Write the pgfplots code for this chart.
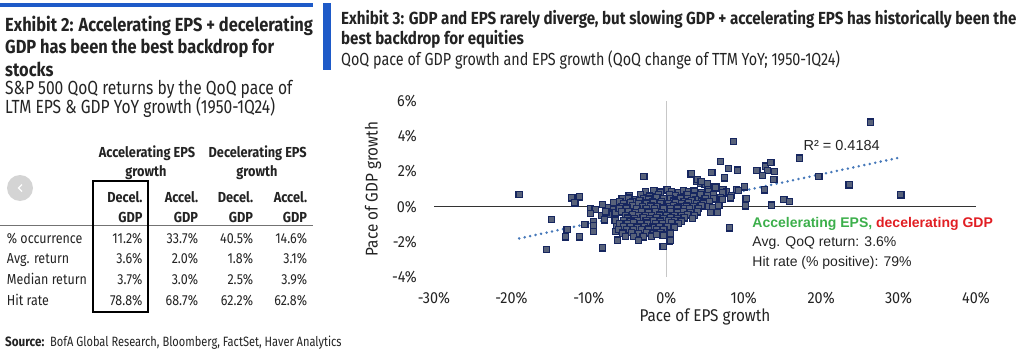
\documentclass[border=0pt]{standalone}
\usepackage{pgfplots}
\pgfplotsset{compat=1.18}
\usepackage{fontspec}
\setmainfont{Fira Sans}[UprightFeatures={FakeStretch=0.82}, BoldFeatures={FakeStretch=0.865}]
\newfontfamily\tabfont{Fira Sans}[UprightFeatures={FakeStretch=0.86}, BoldFeatures={FakeStretch=0.88}]
\newfontfamily\plain{Fira Sans}[FakeStretch=0.9]
\newfontfamily\arial{Liberation Sans}
\definecolor{bofablue}{RGB}{30,90,200}
\definecolor{mkfill}{RGB}{88,98,122}
\definecolor{mkdraw}{RGB}{22,38,95}
\definecolor{trend}{RGB}{70,120,185}
\definecolor{accgreen}{RGB}{60,175,75}
\definecolor{decred}{RGB}{225,30,35}
\definecolor{txt}{RGB}{35,35,35}
\newcommand{\fs}[2]{\fontsize{#1bp}{#2bp}\selectfont}

\begin{document}
\begin{tikzpicture}
\path[use as bounding box] (0,0) rectangle (1024bp,-353bp);
\begin{scope}[x=1bp,y=-1bp, every node/.style={inner sep=0pt, text=txt}]
 % blue bars
 \fill[bofablue] (0,3) rectangle (313,7);
 \fill[bofablue] (323,3) rectangle (331,70);
 % Exhibit 2 title
 \node[anchor=base west] at (5,31.7) {\fs{19}{22}\bfseries Exhibit 2: Accelerating EPS + decelerating};
 \node[anchor=base west] at (5,53.5) {\fs{19}{22}\bfseries GDP has been the best backdrop for};
 \node[anchor=base west] at (5,76) {\fs{19}{22}\bfseries stocks};
 \node[anchor=base west] at (5,94.3) {\fs{19}{22}S\&P 500 QoQ returns by the QoQ pace of};
 \node[anchor=base west] at (5,113.3) {\fs{19}{22}LTM EPS \& GDP YoY growth (1950-1Q24)};
 % carousel button
 \fill[black!17] (20,188) circle (13);
 \draw[white, line width=1.2bp] (22,184.5) -- (18.5,188) -- (22,191.5);
 % table header
 \node[anchor=base] at (147,157) {\tabfont\fs{14.5}{17}\bfseries Accelerating EPS};
 \node[anchor=base] at (146,176) {\tabfont\fs{14.5}{17}\bfseries growth};
 \node[anchor=base] at (257.7,157) {\tabfont\fs{14.5}{17}\bfseries Decelerating EPS};
 \node[anchor=base] at (257,176) {\tabfont\fs{14.5}{17}\bfseries growth};
 \foreach \xx/\lab in {142.7/Decel., 198.3/Accel., 253.3/Decel., 307.3/Accel.}{
   \node[anchor=base east] at (\xx,202) {\tabfont\fs{14.5}{17}\bfseries \lab};
   \node[anchor=base east] at (\xx,222.7) {\tabfont\fs{14.5}{17}\bfseries GDP};
 }
 \draw[black!55, line width=1.5bp] (0,225.7) -- (313,225.7);
 % table rows
 \node[anchor=base west] at (6.7,243) {\tabfont\fs{14.5}{17}\% occurrence};
 \node[anchor=base west] at (6.7,263.3) {\tabfont\fs{14.5}{17}Avg. return};
 \node[anchor=base west] at (6.7,284) {\tabfont\fs{14.5}{17}Median return};
 \node[anchor=base west] at (6.7,305.7) {\tabfont\fs{14.5}{17}Hit rate};
 \foreach \yy/\a/\b/\c/\d in {243/11.2/33.7/40.5/14.6, 263.3/3.6/2.0/1.8/3.1, 284/3.7/3.0/2.5/3.9, 305.7/78.8/68.7/62.2/62.8}{
   \node[anchor=base east] at (142.7,\yy) {\tabfont\fs{14.5}{17}\a\%};
   \node[anchor=base east] at (198.3,\yy) {\tabfont\fs{14.5}{17}\b\%};
   \node[anchor=base east] at (253.3,\yy) {\tabfont\fs{14.5}{17}\c\%};
   \node[anchor=base east] at (307.3,\yy) {\tabfont\fs{14.5}{17}\d\%};
 }
 \draw[black, line width=2bp] (92.7,180.7) rectangle (148.3,311.7);
 % source
 \node[anchor=base west] at (5,346) {\fs{13.5}{16}\textbf{Source:}\ \ BofA Global Research, Bloomberg, FactSet, Haver Analytics};
 % Exhibit 3 title
 \node[anchor=base west] at (341,24) {\fs{17.5}{20}\bfseries Exhibit 3: GDP and EPS rarely diverge, but slowing GDP + accelerating EPS has historically been the};
 \node[anchor=base west] at (341,44) {\fs{17.5}{20}\bfseries best backdrop for equities};
 \node[anchor=base west] at (341,65) {\fs{17.5}{20}QoQ pace of GDP growth and EPS growth (QoQ change of TTM YoY; 1950-1Q24)};
\end{scope}

\begin{axis}[
 at={(434bp,-277bp)}, anchor=south west,
 width=542bp, height=176bp, scale only axis,
 xmin=-30, xmax=40, ymin=-4, ymax=6,
 axis line style={draw=none},
 major tick length=0pt,
 xtick={-30,-20,-10,0,10,20,30,40},
 xticklabels={-30\%,-20\%,-10\%,0\%,10\%,20\%,30\%,40\%},
 ytick={-4,-2,0,2,4,6},
 yticklabels={-4\%,-2\%,0\%,2\%,4\%,6\%},
 tick label style={font=\plain\fs{16}{18}, text=txt},
 xticklabel style={anchor=center, yshift=-21bp},
 yticklabel style={anchor=east, inner sep=0pt, xshift=-17bp},
 xlabel={Pace of EPS growth}, ylabel={Pace of GDP growth},
 label style={font=\plain\fs{17}{19}, text=txt},
 xlabel style={at={(axis description cs:0.5,-0.227)}, anchor=center},
 ylabel style={at={(axis description cs:-0.1125,0.5)}, anchor=center},
 clip=false,
]
\addplot[draw=black!22, line width=1.5bp, mark=none] coordinates {(0,-4) (0,6)};
\addplot[draw=black!80, line width=1.6bp, mark=none] coordinates {(-30,0) (40,0)};
\addplot[only marks, mark=square*, mark size=3.1bp, mark options={fill=mkfill, draw=mkdraw, line width=1.2bp}] table {
x y
-19.0 0.68
-15.5 -2.45
-14.8 -0.74
-12.2 0.49
-11.2 0.55
-11.8 0.21
-12.8 -1.30
-13.0 -1.72
-11.2 -1.72
-10.5 -1.02
-9.8 -0.13
-9.2 -0.17
-9.8 -0.40
-9.4 -0.83
-9.4 -1.10
-9.4 -1.40
-8.2 0.11
-8.2 -2.35
-8.4 -0.50
-8.0 -0.75
-7.5 -0.07
-6.8 -0.17
-7.2 -0.45
-6.6 -0.36
-6.6 -0.80
-6.4 -1.15
-6.5 -1.40
-6.3 -1.90
-6.8 0.25
-7.8 -0.30
-2.9 1.70
3.2 1.86
8.7 3.70
26.4 4.80
17.2 2.75
19.7 1.70
23.6 1.23
30.3 0.66
7.0 2.55
8.05 2.15
9.2 2.07
7.5 1.63
5.9 1.95
11.7 2.06
12.8 2.30
13.5 2.50
13.1 2.05
14.0 1.98
12.4 1.76
13.9 1.55
12.7 0.95
10.1 1.12
9.1 0.97
10.3 0.47
10.2 0.04
13.6 0.08
15.2 0.40
15.9 0.30
8.2 -1.21
-0.4 -2.25
0.4 -1.97
3.9 1.44
4.4 1.34
5.0 1.25
5.5 1.15
6.1 1.06
6.5 1.15
7.3 0.97
7.8 0.87
8.4 0.62
9.3 0.90
4.0 1.53
4.5 1.44
5.3 1.30
6.3 1.06
7.3 0.78
7.0 0.49
-2.7 0.85
-1.6 0.90
-0.8 0.82
0.1 0.95
0.7 0.86
1.6 0.80
2.2 0.90
2.9 0.84
3.6 0.88
4.5 0.80
5.4 0.86
-4.8 0.62
-3.3 0.68
-2.2 0.60
-1.0 0.66
0.4 0.70
1.2 0.62
2.7 0.66
3.5 0.60
4.4 0.68
5.3 0.62
6.1 0.66
-5.7 0.45
-4.9 0.48
-4.0 0.42
-2.9 0.47
-2.3 0.43
-1.2 0.49
-0.3 0.44
0.5 0.47
1.2 0.42
1.8 0.48
2.7 0.45
3.8 0.42
5.0 0.47
6.1 0.44
7.2 0.40
8.3 0.49
-6.0 0.30
-4.4 0.28
-3.4 0.32
-1.8 0.30
-0.6 0.27
0.9 0.31
2.3 0.29
3.3 0.33
4.6 0.28
5.6 0.30
-5.5 0.18
-4.6 0.21
-3.6 0.16
-2.5 0.20
-1.6 0.22
-0.8 0.15
0.3 0.19
1.2 0.22
2.0 0.16
2.9 0.21
3.9 0.18
4.8 0.20
6.8 0.06
-5.7 0.02
-4.4 0.04
-3.1 -0.01
-2.0 0.03
-1.1 0.00
0.2 0.02
0.9 0.05
1.8 -0.02
2.6 0.03
3.5 0.01
4.5 0.04
5.5 0.00
6.0 -0.05
-6.1 -0.12
-5.1 -0.09
-3.8 -0.13
-2.6 -0.10
-1.5 -0.12
-0.4 -0.08
0.6 -0.12
1.5 -0.09
2.3 -0.13
3.0 -0.10
4.1 -0.11
-5.8 -0.30
-4.9 -0.28
-4.0 -0.33
-3.2 -0.27
-2.3 -0.31
-1.4 -0.29
-0.6 -0.32
0.5 -0.28
1.4 -0.31
2.2 -0.27
3.1 -0.32
4.0 -0.30
5.7 -0.32
6.6 -0.32
-5.3 -0.50
-4.4 -0.47
-3.6 -0.52
-2.7 -0.49
-1.9 -0.51
-0.9 -0.48
0.0 -0.52
1.0 -0.49
1.9 -0.50
2.8 -0.47
3.6 -0.51
-5.0 -0.65
-4.1 -0.67
-3.0 -0.63
-2.2 -0.66
-1.2 -0.64
-0.3 -0.67
0.6 -0.63
1.5 -0.66
2.3 -0.64
3.4 -0.66
-5.5 -0.80
-4.6 -0.82
-3.7 -0.79
-2.6 -0.81
-1.7 -0.78
-0.8 -0.82
0.3 -0.80
1.1 -0.79
2.0 -0.82
-6.0 -0.95
-5.0 -0.97
-4.2 -0.93
-3.3 -0.96
-2.4 -0.94
-1.4 -0.97
-0.5 -0.95
0.7 -0.93
1.6 -0.96
-5.5 -1.15
-4.6 -1.13
-3.7 -1.17
-2.8 -1.14
-1.8 -1.16
-0.9 -1.13
0.1 -1.15
1.0 -1.17
-6.2 -1.30
-5.1 -1.32
-4.2 -1.29
-3.2 -1.31
-2.3 -1.28
-1.3 -1.32
-0.3 -1.30
-5.6 -1.50
-4.5 -1.48
-3.6 -1.52
-2.5 -1.49
-1.6 -1.51
-0.7 -1.48
0.5 -1.50
-5.3 -1.70
-4.2 -1.69
-3.0 -1.72
-1.9 -1.68
-1.2 -1.60
-0.4 -1.62
-3.6 -1.92
0.5 -1.90
};
\addplot[draw=trend, line width=2.8bp, dash pattern=on 0bp off 5.6bp, line cap=round, mark=none] coordinates {(-19,-1.81) (30.5,2.82)};
\node[anchor=west, inner sep=0pt, text=txt] at (axis cs:17.7,3.45) {\arial\fs{14.5}{17}R² = 0.4184};
\node[anchor=west, inner sep=0pt] at (axis cs:11.1,-0.97) {\arial\fs{14}{17}\bfseries\textcolor{accgreen}{Accelerating EPS,} \textcolor{decred}{decelerating GDP}};
\node[anchor=west, inner sep=0pt, text=txt] at (axis cs:11.1,-2.1) {\arial\fs{14}{17}Avg. QoQ return: 3.6\%};
\node[anchor=west, inner sep=0pt, text=txt] at (axis cs:11.1,-3.2) {\arial\fs{14}{17}Hit rate (\% positive): 79\%};
\end{axis}
\end{tikzpicture}
\end{document}
